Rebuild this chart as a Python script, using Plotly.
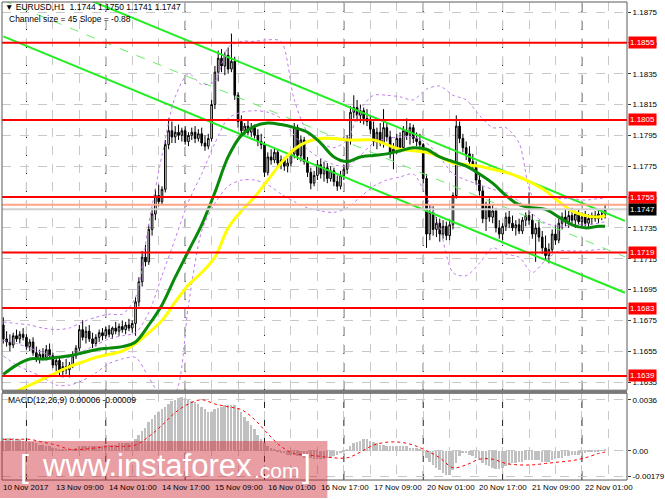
import pandas as pd
import plotly.graph_objects as go

# EURUSD H1 candles, 10 Nov 2017 17:00 -> 22 Nov 2017 07:00
bar_times = [t for t in pd.date_range("2017-11-10 17:00", "2017-11-22 07:00", freq="h") if t.weekday() < 5]

opens = [
    1.1672, 1.1663, 1.1661, 1.1659, 1.1665, 1.1663, 1.1666, 1.1664, 1.1658, 1.1661,
    1.1654, 1.1650, 1.1653, 1.1651, 1.1656, 1.1652, 1.1646, 1.1649, 1.1642, 1.1645,
    1.1643, 1.1646, 1.1652, 1.1657, 1.1669, 1.1664, 1.1668, 1.1663, 1.1660, 1.1664,
    1.1667, 1.1665, 1.1669, 1.1666, 1.1670, 1.1668, 1.1671, 1.1669, 1.1672, 1.1670,
    1.1673, 1.1687, 1.1700, 1.1716, 1.1713, 1.1734, 1.1744, 1.1756, 1.1752, 1.1760,
    1.1789, 1.1798, 1.1794, 1.1797, 1.1795, 1.1798, 1.1791, 1.1795, 1.1797, 1.1793,
    1.1796, 1.1790, 1.1788, 1.1793, 1.1815, 1.1836, 1.1845, 1.1840, 1.1847, 1.1838,
    1.1843, 1.1821, 1.1804, 1.1798, 1.1801, 1.1797, 1.1800, 1.1795, 1.1791, 1.1789,
    1.1771, 1.1781, 1.1779, 1.1784, 1.1777, 1.1779, 1.1775, 1.1777, 1.1783, 1.1800,
    1.1782, 1.1792, 1.1778, 1.1771, 1.1764, 1.1769, 1.1776, 1.1770, 1.1774, 1.1767,
    1.1772, 1.1765, 1.1762, 1.1769, 1.1773, 1.1792, 1.1810, 1.1813, 1.1808, 1.1811,
    1.1806, 1.1804, 1.1799, 1.1791, 1.1797, 1.1790, 1.1800, 1.1794, 1.1784, 1.1786,
    1.1793, 1.1787, 1.1798, 1.1795, 1.1800, 1.1793, 1.1791, 1.1789, 1.1767, 1.1731,
    1.1745, 1.1734, 1.1738, 1.1731, 1.1736, 1.1730, 1.1737, 1.1756, 1.1801, 1.1793,
    1.1787, 1.1783, 1.1778, 1.1775, 1.1766, 1.1759, 1.1741, 1.1749, 1.1742, 1.1746,
    1.1735, 1.1731, 1.1736, 1.1742, 1.1738, 1.1735, 1.1737, 1.1733, 1.1740, 1.1743,
    1.1740, 1.1731, 1.1735, 1.1729, 1.1722, 1.1717, 1.1721, 1.1731, 1.1727, 1.1738,
    1.1742, 1.1739, 1.1743, 1.1740, 1.1744, 1.1739, 1.1742, 1.1738, 1.1741, 1.1743,
    1.1741, 1.1744, 1.1744,
]
highs = [
    1.1677, 1.1668, 1.1666, 1.1667, 1.1669, 1.1668, 1.1670, 1.1666, 1.1663, 1.1664,
    1.1658, 1.1656, 1.1657, 1.1659, 1.1660, 1.1654, 1.1652, 1.1651, 1.1648, 1.1650,
    1.1648, 1.1655, 1.1659, 1.1672, 1.1675, 1.1671, 1.1672, 1.1667, 1.1666, 1.1669,
    1.1670, 1.1671, 1.1672, 1.1671, 1.1674, 1.1673, 1.1675, 1.1674, 1.1676, 1.1675,
    1.1690, 1.1703, 1.1720, 1.1724, 1.1737, 1.1748, 1.1760, 1.1763, 1.1762, 1.1792,
    1.1806, 1.1804, 1.1801, 1.1802, 1.1800, 1.1801, 1.1797, 1.1800, 1.1801, 1.1799,
    1.1800, 1.1795, 1.1796, 1.1818, 1.1840, 1.1850, 1.1851, 1.1849, 1.1852, 1.1861,
    1.1846, 1.1823, 1.1808, 1.1803, 1.1805, 1.1803, 1.1802, 1.1799, 1.1796, 1.1791,
    1.1784, 1.1786, 1.1787, 1.1786, 1.1782, 1.1781, 1.1780, 1.1785, 1.1803, 1.1802,
    1.1795, 1.1794, 1.1781, 1.1774, 1.1772, 1.1779, 1.1780, 1.1778, 1.1777, 1.1775,
    1.1774, 1.1769, 1.1772, 1.1776, 1.1795, 1.1814, 1.1821, 1.1818, 1.1815, 1.1813,
    1.1812, 1.1808, 1.1804, 1.1800, 1.1803, 1.1812, 1.1803, 1.1798, 1.1790, 1.1796,
    1.1797, 1.1801, 1.1806, 1.1803, 1.1802, 1.1797, 1.1796, 1.1790, 1.1770, 1.1750,
    1.1749, 1.1742, 1.1741, 1.1740, 1.1739, 1.1740, 1.1758, 1.1808, 1.1804, 1.1796,
    1.1791, 1.1788, 1.1783, 1.1778, 1.1770, 1.1762, 1.1752, 1.1754, 1.1750, 1.1748,
    1.1740, 1.1738, 1.1745, 1.1746, 1.1743, 1.1740, 1.1741, 1.1742, 1.1745, 1.1758,
    1.1744, 1.1738, 1.1740, 1.1733, 1.1730, 1.1725, 1.1734, 1.1737, 1.1741, 1.1745,
    1.1747, 1.1746, 1.1748, 1.1746, 1.1747, 1.1745, 1.1746, 1.1744, 1.1745, 1.1746,
    1.1746, 1.1747, 1.1750,
]
lows = [
    1.1660, 1.1658, 1.1655, 1.1657, 1.1661, 1.1660, 1.1662, 1.1656, 1.1655, 1.1652,
    1.1648, 1.1647, 1.1649, 1.1649, 1.1650, 1.1644, 1.1642, 1.1639, 1.1638, 1.1640,
    1.1638, 1.1644, 1.1650, 1.1655, 1.1662, 1.1660, 1.1661, 1.1657, 1.1658, 1.1661,
    1.1662, 1.1663, 1.1664, 1.1663, 1.1666, 1.1665, 1.1667, 1.1666, 1.1668, 1.1667,
    1.1665, 1.1684, 1.1697, 1.1710, 1.1711, 1.1730, 1.1740, 1.1749, 1.1750, 1.1758,
    1.1786, 1.1790, 1.1790, 1.1792, 1.1791, 1.1789, 1.1788, 1.1792, 1.1790, 1.1791,
    1.1788, 1.1785, 1.1786, 1.1791, 1.1812, 1.1830, 1.1836, 1.1834, 1.1835, 1.1836,
    1.1818, 1.1800, 1.1794, 1.1795, 1.1795, 1.1794, 1.1793, 1.1788, 1.1786, 1.1768,
    1.1769, 1.1776, 1.1777, 1.1775, 1.1773, 1.1772, 1.1771, 1.1775, 1.1780, 1.1779,
    1.1778, 1.1776, 1.1768, 1.1760, 1.1762, 1.1766, 1.1767, 1.1765, 1.1764, 1.1765,
    1.1762, 1.1759, 1.1760, 1.1766, 1.1770, 1.1789, 1.1806, 1.1804, 1.1803, 1.1802,
    1.1801, 1.1796, 1.1788, 1.1786, 1.1788, 1.1787, 1.1791, 1.1780, 1.1773, 1.1783,
    1.1784, 1.1785, 1.1792, 1.1789, 1.1790, 1.1788, 1.1786, 1.1764, 1.1722, 1.1727,
    1.1730, 1.1729, 1.1726, 1.1728, 1.1727, 1.1727, 1.1734, 1.1754, 1.1790, 1.1784,
    1.1779, 1.1774, 1.1772, 1.1763, 1.1756, 1.1738, 1.1733, 1.1739, 1.1738, 1.1732,
    1.1728, 1.1727, 1.1733, 1.1735, 1.1733, 1.1730, 1.1731, 1.1731, 1.1736, 1.1737,
    1.1728, 1.1713, 1.1726, 1.1718, 1.1714, 1.1712, 1.1719, 1.1724, 1.1725, 1.1734,
    1.1736, 1.1735, 1.1737, 1.1735, 1.1737, 1.1735, 1.1736, 1.1735, 1.1737, 1.1739,
    1.1738, 1.1740, 1.1741,
]
closes = [
    1.1663, 1.1661, 1.1659, 1.1665, 1.1663, 1.1666, 1.1664, 1.1658, 1.1661, 1.1654,
    1.1650, 1.1653, 1.1651, 1.1656, 1.1652, 1.1646, 1.1649, 1.1642, 1.1645, 1.1643,
    1.1646, 1.1652, 1.1657, 1.1669, 1.1664, 1.1668, 1.1663, 1.1660, 1.1664, 1.1667,
    1.1665, 1.1669, 1.1666, 1.1670, 1.1668, 1.1671, 1.1669, 1.1672, 1.1670, 1.1673,
    1.1687, 1.1700, 1.1716, 1.1713, 1.1734, 1.1744, 1.1756, 1.1752, 1.1760, 1.1789,
    1.1798, 1.1794, 1.1797, 1.1795, 1.1798, 1.1791, 1.1795, 1.1797, 1.1793, 1.1796,
    1.1790, 1.1788, 1.1793, 1.1815, 1.1836, 1.1845, 1.1840, 1.1847, 1.1838, 1.1843,
    1.1821, 1.1804, 1.1798, 1.1801, 1.1797, 1.1800, 1.1795, 1.1791, 1.1789, 1.1771,
    1.1781, 1.1779, 1.1784, 1.1777, 1.1779, 1.1775, 1.1777, 1.1783, 1.1800, 1.1782,
    1.1792, 1.1778, 1.1771, 1.1764, 1.1769, 1.1776, 1.1770, 1.1774, 1.1767, 1.1772,
    1.1765, 1.1762, 1.1769, 1.1773, 1.1792, 1.1810, 1.1813, 1.1808, 1.1811, 1.1806,
    1.1804, 1.1799, 1.1791, 1.1797, 1.1790, 1.1800, 1.1794, 1.1784, 1.1786, 1.1793,
    1.1787, 1.1798, 1.1795, 1.1800, 1.1793, 1.1791, 1.1789, 1.1767, 1.1731, 1.1745,
    1.1734, 1.1738, 1.1731, 1.1736, 1.1730, 1.1737, 1.1756, 1.1801, 1.1793, 1.1787,
    1.1783, 1.1778, 1.1775, 1.1766, 1.1759, 1.1741, 1.1749, 1.1742, 1.1746, 1.1735,
    1.1731, 1.1736, 1.1742, 1.1738, 1.1735, 1.1737, 1.1733, 1.1740, 1.1743, 1.1740,
    1.1731, 1.1735, 1.1729, 1.1722, 1.1717, 1.1721, 1.1731, 1.1727, 1.1738, 1.1742,
    1.1739, 1.1743, 1.1740, 1.1744, 1.1739, 1.1742, 1.1738, 1.1741, 1.1743, 1.1741,
    1.1744, 1.1744, 1.1747,
]

# indicators, read every 4th bar
sample_bars = list(range(0, 181, 4)) + [182]
ma_green = [
    1.1640, 1.1646, 1.1650, 1.1650, 1.1651, 1.1652, 1.1654, 1.1656, 1.1657, 1.1658,
    1.1661, 1.1672, 1.1685, 1.1703, 1.1720, 1.1737, 1.1758, 1.1781, 1.1795, 1.1801,
    1.1803, 1.1802, 1.1800, 1.1797, 1.1790, 1.1781, 1.1778, 1.1781, 1.1782, 1.1783,
    1.1785, 1.1787, 1.1786, 1.1781, 1.1778, 1.1775, 1.1770, 1.1764, 1.1756, 1.1750,
    1.1748, 1.1747, 1.1742, 1.1737, 1.1735, 1.1736, 1.1736,
]
ma_yellow = [
    1.1625, 1.1629, 1.1633, 1.1637, 1.1641, 1.1645, 1.1648, 1.1651, 1.1653, 1.1655,
    1.1660, 1.1667, 1.1675, 1.1687, 1.1698, 1.1706, 1.1716, 1.1735, 1.1746, 1.1755,
    1.1766, 1.1777, 1.1786, 1.1791, 1.1793, 1.1793, 1.1792, 1.1792, 1.1792, 1.1789,
    1.1786, 1.1785, 1.1784, 1.1781, 1.1777, 1.1776, 1.1775, 1.1773, 1.1771, 1.1768,
    1.1764, 1.1759, 1.1752, 1.1746, 1.1743, 1.1742, 1.1743,
]
# Bollinger bands (dotted violet)
band_upper = [
    1.1674, 1.1673, 1.1672, 1.1670, 1.1669, 1.1670, 1.1674, 1.1677, 1.1679, 1.1679,
    1.1690, 1.1738, 1.1782, 1.1820, 1.1835, 1.1828, 1.1830, 1.1852, 1.1856, 1.1856,
    1.1857, 1.1856, 1.1818, 1.1797, 1.1790, 1.1787, 1.1792, 1.1812, 1.1821, 1.1821,
    1.1820, 1.1818, 1.1825, 1.1827, 1.1821, 1.1818, 1.1808, 1.1800, 1.1800, 1.1790,
    1.1756, 1.1755, 1.1754, 1.1754, 1.1753, 1.1754, 1.1754,
]
band_middle = [
    1.1662, 1.1660, 1.1657, 1.1654, 1.1651, 1.1651, 1.1655, 1.1659, 1.1663, 1.1665,
    1.1667, 1.1680, 1.1704, 1.1728, 1.1752, 1.1770, 1.1790, 1.1806, 1.1810, 1.1811,
    1.1810, 1.1806, 1.1795, 1.1786, 1.1780, 1.1776, 1.1775, 1.1782, 1.1790, 1.1793,
    1.1794, 1.1794, 1.1790, 1.1781, 1.1770, 1.1766, 1.1763, 1.1760, 1.1758, 1.1752,
    1.1744, 1.1738, 1.1736, 1.1737, 1.1737, 1.1738, 1.1739,
]
band_lower = [
    1.1652, 1.1646, 1.1642, 1.1638, 1.1633, 1.1633, 1.1636, 1.1641, 1.1647, 1.1650,
    1.1651, 1.1638, 1.1626, 1.1628, 1.1685, 1.1733, 1.1751, 1.1762, 1.1766, 1.1766,
    1.1763, 1.1757, 1.1752, 1.1748, 1.1746, 1.1745, 1.1748, 1.1755, 1.1762, 1.1766,
    1.1768, 1.1770, 1.1755, 1.1735, 1.1706, 1.1704, 1.1712, 1.1722, 1.1718, 1.1716,
    1.1706, 1.1714, 1.1720, 1.1720, 1.1720, 1.1721, 1.1721,
]

# MACD(12,26,9): histogram for every bar, signal every 4th bar
macd_hist = [
    0.0009, 0.0009, 0.0009, 0.0009, 0.0008, 0.0008, 0.0007, 0.0007, 0.0006, 0.0006,
    0.0005, 0.0004, 0.0004, 0.0003, 0.0003, 0.0002, 0.0002, 0.0001, 0.0001, 0.00005,
    0.00005, 0.0001, 0.0002, 0.0003, 0.0003, 0.0003, 0.0003, 0.0003, 0.0003, 0.0003,
    0.0003, 0.0004, 0.0004, 0.0004, 0.0004, 0.0005, 0.0005, 0.0005, 0.0005, 0.0006,
    0.0008, 0.0011, 0.0014, 0.0016, 0.0020, 0.0022, 0.0025, 0.0027, 0.0029, 0.0031,
    0.0033, 0.0035, 0.0036, 0.0037, 0.0038, 0.0037, 0.0036, 0.0035, 0.0034, 0.0033,
    0.0031, 0.0029, 0.0027, 0.0027, 0.0029, 0.0030, 0.0031, 0.0032, 0.0032, 0.0032,
    0.0032, 0.0030, 0.0027, 0.0024, 0.0021, 0.0018, 0.0015, 0.0011, 0.0008, 0.0005,
    0.0003, 0.0002, 0.0001, -0.0001, -0.0002, -0.0002, -0.0003, -0.0003, -0.0003, -0.0004,
    -0.0004, -0.0005, -0.0005, -0.0005, -0.0006, -0.0006, -0.0006, -0.0006, -0.0005, -0.0005,
    -0.0004, -0.0003, -0.0002, -0.0001, 0.0001, 0.0003, 0.0005, 0.0006, 0.0007, 0.0008,
    0.0008, 0.0007, 0.0006, 0.0005, 0.0004, 0.0004, 0.0003, 0.0003, 0.0003, 0.0003,
    0.0003, 0.0003, 0.0003, 0.0002, 0.0002, 0.0002, 0.0001, -0.0002, -0.0005, -0.0008,
    -0.0010, -0.0012, -0.0014, -0.0016, -0.0017, -0.0017, -0.0014, -0.0009, -0.0004, -0.0002,
    -0.0002, -0.0003, -0.0004, -0.0005, -0.0007, -0.0009, -0.0010, -0.0011, -0.0012, -0.0013,
    -0.0013, -0.0012, -0.0011, -0.0010, -0.0009, -0.0009, -0.0008, -0.0008, -0.0007, -0.0007,
    -0.0007, -0.0007, -0.0007, -0.0008, -0.0008, -0.0008, -0.0007, -0.0006, -0.0005, -0.0005,
    -0.0004, -0.0004, -0.0003, -0.0003, -0.0003, -0.0002, -0.0002, -0.0001, -0.0001, -0.0001,
    -0.00005, 0.00003, 0.00006,
]
macd_signal = [
    0.0008, 0.0008, 0.0008, 0.0006, 0.0004, 0.0001, 0.0001, 0.0002, 0.0003, 0.0003,
    0.0004, 0.0010, 0.0018, 0.0027, 0.0033, 0.0036, 0.0033, 0.0031, 0.0029, 0.0022,
    0.0012, 0.0003, -0.0002, -0.0003, -0.0004, -0.0005, -0.0005, -0.0001, 0.0004, 0.0006,
    0.0006, 0.0004, 0.0000, -0.0005, -0.0012, -0.0010, -0.0006, -0.0006, -0.0009, -0.0010,
    -0.0010, -0.0009, -0.0008, -0.0007, -0.0005, -0.0002, -0.0001,
]

# equidistant channel (two anchor bars) and horizontal levels
chan_bars = [0, 188]
chan_upper = [1.19058, 1.17395]
chan_mid = [1.18825, 1.17162]
chan_lower = [1.18592, 1.16929]
levels = [1.1855, 1.1805, 1.1755, 1.1719, 1.1683, 1.1639]
ask_price = 1.1750
bid_price = 1.1747

price_ticks = [1.1875, 1.1855, 1.1835, 1.1815, 1.1795, 1.1775, 1.1755, 1.1735, 1.1715, 1.1695, 1.1675, 1.1655, 1.1635]
macd_ticks = [0.0036, 0.0, -0.00179]
macd_ticktext = ["0.0036", "0.00", "-0.00179"]

bars = list(range(len(bar_times)))
assert len(opens) == len(highs) == len(lows) == len(closes) == len(macd_hist) == len(bars)

FONT = "Liberation Sans, Arial, sans-serif"
W, H = 665, 499
# the plotting area reaches the bottom edge so the time labels and the watermark live in paper space
ML, MR, MT, MB = 2, 33, 2, 0
PW, PH = W - ML - MR, H - MT - MB
MAIN_BOTTOM, MACD_TOP, MACD_BOTTOM = 391, 394, 481


def px_x(x):
    return (x - ML) / PW


def px_y(y):
    return (H - MB - y) / PH


fig = go.Figure()

# channel
fig.add_trace(go.Scatter(x=chan_bars, y=chan_mid, mode="lines",
                         line=dict(color="#66EE66", width=1, dash="dash"), hoverinfo="skip"))
for chan in (chan_upper, chan_lower):
    fig.add_trace(go.Scatter(x=chan_bars, y=chan, mode="lines",
                             line=dict(color="#22EE22", width=2), hoverinfo="skip"))

# bollinger bands
for band in (band_upper, band_middle, band_lower):
    fig.add_trace(go.Scatter(x=sample_bars, y=band, mode="lines",
                             line=dict(color="#C07CEB", width=1, dash="dot", shape="spline", smoothing=0.8),
                             hoverinfo="skip"))

fig.add_trace(go.Scatter(x=sample_bars, y=ma_yellow, mode="lines",
                         line=dict(color="#FFFF00", width=3, shape="spline")))
fig.add_trace(go.Scatter(x=sample_bars, y=ma_green, mode="lines",
                         line=dict(color="#0A8A0A", width=3, shape="spline")))

fig.add_trace(go.Candlestick(
    x=bars, open=opens, high=highs, low=lows, close=closes,
    increasing=dict(line=dict(color="black", width=1), fillcolor="white"),
    decreasing=dict(line=dict(color="black", width=1), fillcolor="black"),
    whiskerwidth=0,
))

# MACD panel
fig.add_trace(go.Bar(x=bars, y=macd_hist, marker=dict(color="#C0C0C0", line=dict(width=0)),
                     width=0.6, xaxis="x2", yaxis="y2"))
fig.add_trace(go.Scatter(x=sample_bars, y=macd_signal, mode="lines", xaxis="x2", yaxis="y2",
                         line=dict(color="#FF0000", width=1, dash="dot", shape="spline")))

shapes = []
for lvl in levels:
    shapes.append(dict(type="line", xref="paper", yref="y", x0=0, x1=1, y0=lvl, y1=lvl,
                       line=dict(color="#FF0000", width=2)))
shapes.append(dict(type="line", xref="paper", yref="y", x0=0, x1=1, y0=ask_price, y1=ask_price,
                   line=dict(color="#FFA585", width=2)))
shapes.append(dict(type="line", xref="paper", yref="y", x0=0, x1=1, y0=bid_price, y1=bid_price,
                   line=dict(color="#D0D0D0", width=2)))

# period separators at midnight (both panels)
for i, t in enumerate(bar_times):
    if t.hour == 0:
        shapes.append(dict(type="line", xref="x", yref="paper", x0=i, x1=i,
                           y0=px_y(MACD_BOTTOM), y1=1, layer="below",
                           line=dict(color="#202020", width=1, dash="dash")))

# panel frames
shapes.append(dict(type="rect", xref="paper", yref="paper", x0=0, x1=1, y0=px_y(MAIN_BOTTOM), y1=1,
                   line=dict(color="#5A5A5A", width=1)))
shapes.append(dict(type="rect", xref="paper", yref="paper", x0=0, x1=1,
                   y0=px_y(MACD_BOTTOM), y1=px_y(MACD_TOP), line=dict(color="#5A5A5A", width=1)))
shapes.append(dict(type="rect", xref="paper", yref="paper", x0=0, x1=1,
                   y0=px_y(MACD_TOP), y1=px_y(MAIN_BOTTOM), line=dict(width=0), fillcolor="#7A7A7A"))

# watermark band
shapes.append(dict(type="rect", xref="paper", yref="paper", x0=px_x(0), x1=px_x(330),
                   y0=px_y(499), y1=px_y(442), line=dict(width=0),
                   fillcolor="rgba(205,40,50,0.45)", layer="above"))

annotations = []
# time labels every 16 bars
for i in range(0, len(bar_times), 16):
    t = bar_times[i]
    txt = f"{t.day} {t:%b} {t.year}" if i == 0 else f"{t.day} {t:%b %H:%M}"
    annotations.append(dict(x=i, xref="x", y=px_y(488), yref="paper", text=txt, showarrow=False,
                            xanchor="left", yanchor="middle", xshift=-2,
                            font=dict(family=FONT, size=8, color="black")))

# price tags on the right scale
tags = [(ask_price, "#FFA585", "white")] + [(l, "#FF0000", "white") for l in levels] + [(bid_price, "#000000", "white")]
for val, bg, fg in tags:
    annotations.append(dict(x=1, xref="paper", y=val, yref="y", text=f"{val:.4f}", showarrow=False,
                            xanchor="left", yanchor="middle", xshift=1, bgcolor=bg, borderpad=1,
                            font=dict(family=FONT, size=8, color=fg)))

annotations += [
    dict(x=px_x(3), y=px_y(7), xref="paper", yref="paper", xanchor="left", yanchor="middle", showarrow=False,
         text="\u25bc EURUSD,H1  1.1744 1.1750 1.1741 1.1747", font=dict(family=FONT, size=8.5, color="black")),
    dict(x=px_x(7), y=px_y(19), xref="paper", yref="paper", xanchor="left", yanchor="middle", showarrow=False,
         text="Channel size = 45 Slope = -0.88", font=dict(family=FONT, size=8.5, color="black")),
    dict(x=px_x(6), y=px_y(401), xref="paper", yref="paper", xanchor="left", yanchor="middle", showarrow=False,
         text="MACD(12,26,9) 0.00006 -0.00009", font=dict(family=FONT, size=8.5, color="black")),
    dict(x=px_x(18), y=px_y(467), xref="paper", yref="paper", xanchor="left", yanchor="middle", showarrow=False,
         text="[", font=dict(family=FONT, size=32, color="white")),
    dict(x=px_x(40), y=px_y(466), xref="paper", yref="paper", xanchor="left", yanchor="middle", showarrow=False,
         text="www.instaforex", font=dict(family=FONT, size=31, color="white")),
    dict(x=px_x(254), y=px_y(471), xref="paper", yref="paper", xanchor="left", yanchor="middle", showarrow=False,
         text=".com", font=dict(family=FONT, size=21, color="white")),
    dict(x=px_x(302), y=px_y(467), xref="paper", yref="paper", xanchor="left", yanchor="middle", showarrow=False,
         text="]", font=dict(family=FONT, size=32, color="white")),
]

x_range = [-0.39, 188.63]
grid_bars = list(range(7, len(bar_times) + 8, 8))
axis_common = dict(range=x_range, tickmode="array", tickvals=grid_bars, showticklabels=False,
                   showgrid=True, gridcolor="#C8C8C8", griddash="dash", gridwidth=1,
                   zeroline=False, ticks="", fixedrange=True)

fig.update_layout(
    width=W, height=H,
    margin=dict(l=ML, r=MR, t=MT, b=MB),
    paper_bgcolor="white", plot_bgcolor="white",
    showlegend=False, bargap=0,
    font=dict(family=FONT, size=8, color="black"),
    xaxis=dict(domain=[0, 1], anchor="y", rangeslider=dict(visible=False), **axis_common),
    xaxis2=dict(domain=[0, 1], anchor="y2", matches="x", **axis_common),
    yaxis=dict(domain=[px_y(MAIN_BOTTOM), 1], range=[1.16297, 1.18815], side="right",
               tickmode="array", tickvals=price_ticks, ticktext=[f"{v:.4f}" for v in price_ticks],
               ticks="outside", ticklen=3, tickcolor="#404040", fixedrange=True,
               showgrid=True, gridcolor="#C8C8C8", griddash="dash", zeroline=False,
               tickfont=dict(family=FONT, size=8, color="black")),
    yaxis2=dict(domain=[px_y(MACD_BOTTOM), px_y(MACD_TOP)], range=[-0.00207, 0.00406], side="right",
                tickmode="array", tickvals=macd_ticks, ticktext=macd_ticktext,
                ticks="outside", ticklen=3, tickcolor="#404040", fixedrange=True,
                showgrid=True, gridcolor="#C8C8C8", griddash="dash", zeroline=False,
                tickfont=dict(family=FONT, size=8, color="black")),
    shapes=shapes,
    annotations=annotations,
)

# the page is photographed at exactly the figure size, so drop the default body margin
fig.write_html("out.html", config={"displayModeBar": False},
               post_script="document.body.style.margin='0';document.body.style.overflow='hidden';")
